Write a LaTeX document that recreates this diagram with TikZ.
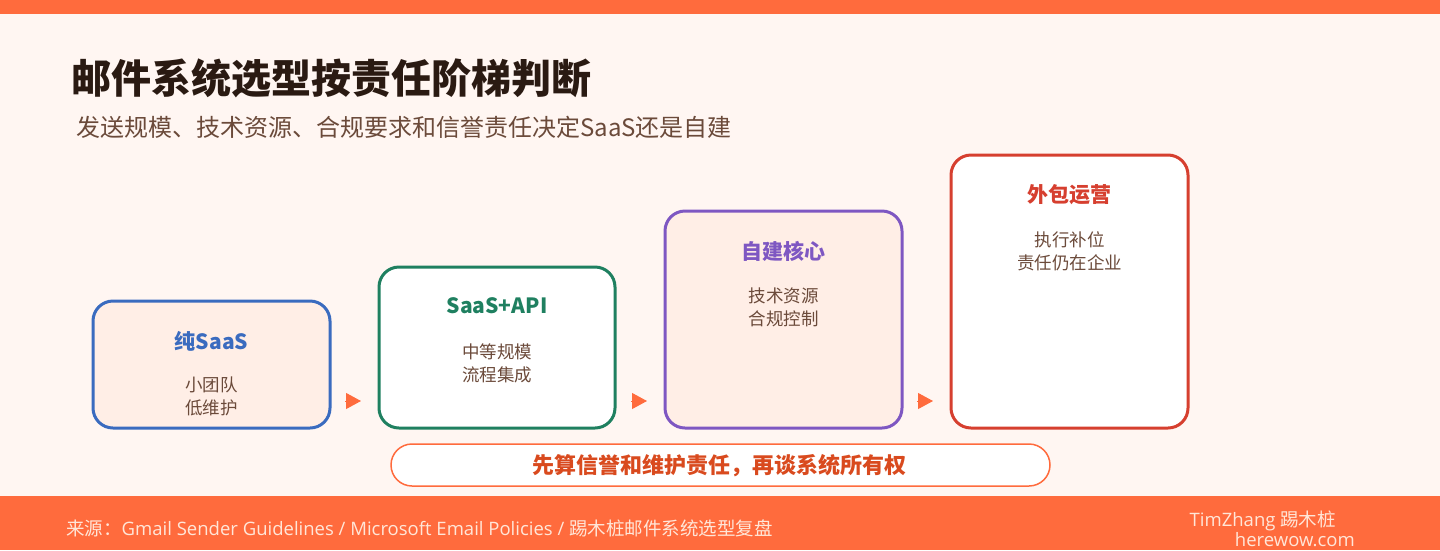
\documentclass[tikz,border=0pt]{standalone}
\usepackage{fontspec}
\setmainfont{Noto Sans CJK SC}
\newfontfamily\latinf{Open Sans}
\usetikzlibrary{arrows.meta}
\definecolor{bg}{HTML}{FFF6F2}
\definecolor{bar}{HTML}{FF6B3D}
\definecolor{titlec}{HTML}{2A1A12}
\definecolor{subc}{HTML}{6B4A3A}
\definecolor{bodyc}{HTML}{6B4A3A}
\definecolor{peach}{HTML}{FFEEE6}
\definecolor{cblue}{HTML}{3A6BBF}
\definecolor{cgreen}{HTML}{1F8060}
\definecolor{cpurple}{HTML}{7E57C2}
\definecolor{cred}{HTML}{D63F2F}
\definecolor{banc}{HTML}{D94A1E}
\definecolor{footc}{HTML}{FFE6D8}
\tikzset{
  stagebox/.style={draw, line width=3pt, rounded corners=20pt, inner sep=0pt},
  stagetitle/.style={font=\fontsize{21}{25}\selectfont\bfseries, inner sep=0pt, anchor=center},
  stagebody/.style={font=\fontsize{17.5}{23}\selectfont, text=bodyc, align=center, inner sep=0pt, anchor=center},
  stagearrow/.style={draw=bar, line width=1pt, -{Triangle[length=15pt 0 0,width=16pt 0 0]}},
  txt/.style={inner sep=0pt},
  foot/.style={inner sep=0pt, text=footc, font=\fontsize{18.5}{22}\selectfont}
}
\begin{document}
\begin{tikzpicture}[x=1pt,y=-1pt]
\useasboundingbox (0,0) rectangle (1440,550);
\fill[bg] (0,0) rectangle (1440,550);
\fill[bar] (0,0) rectangle (1440,14);
\fill[bar] (0,496) rectangle (1440,550);

\node[txt, anchor=west, text=titlec, font=\fontsize{40}{46}\selectfont\bfseries] (title) at (71,78) {邮件系统选型按责任阶梯判断};
\node[txt, anchor=west, text=subc, font=\fontsize{24}{28}\selectfont] (subtitle) at (76,127) {发送规模、技术资源、合规要求和信誉责任决定SaaS还是自建};

% boxes
\node[stagebox, draw=cblue, fill=peach, minimum width=237pt, minimum height=127pt] (b1) at (211.5,364.5) {};
\node[stagebox, draw=cgreen, fill=white, minimum width=236pt, minimum height=161pt] (b2) at (497,347.5) {};
\node[stagebox, draw=cpurple, fill=peach, minimum width=237pt, minimum height=217pt] (b3) at (783.5,319.5) {};
\node[stagebox, draw=cred, fill=white, minimum width=237pt, minimum height=273pt] (b4) at (1069.5,291.5) {};

\node[stagetitle, text=cblue] (t1) at (211.5,341) {纯SaaS};
\node[stagebody] (d1) at (211.5,396) {小团队\\低维护};
\node[stagetitle, text=cgreen] (t2) at (497,306) {SaaS+API};
\node[stagebody] (d2) at (497,363) {中等规模\\流程集成};
\node[stagetitle, text=cpurple] (t3) at (783.5,251) {自建核心};
\node[stagebody] (d3) at (783.5,307) {技术资源\\合规控制};
\node[stagetitle, text=cred] (t4) at (1069.5,195) {外包运营};
\node[stagebody] (d4) at (1069.5,251) {执行补位\\责任仍在企业};

% arrows
\coordinate (a1s) at (345,401); \coordinate (a1e) at (361,401);
\coordinate (a2s) at (631,401); \coordinate (a2e) at (647,401);
\coordinate (a3s) at (917,401); \coordinate (a3e) at (933,401);
\draw[stagearrow] (a1s) -- (a1e);
\draw[stagearrow] (a2s) -- (a2e);
\draw[stagearrow] (a3s) -- (a3e);

% banner
\node[draw=bar, line width=1.5pt, fill=white, rounded corners=21pt, minimum width=659pt, minimum height=42pt, inner sep=0pt] (banner) at (720.5,465) {};
\node[txt, text=banc, font=\fontsize{22}{26}\selectfont\bfseries] (bannertext) at (719,466) {先算信誉和维护责任，再谈系统所有权};

% footer
\node[foot, anchor=west] (source) at (66,528) {来源：{\latinf Gmail Sender Guidelines / Microsoft Email Policies / }踢木桩邮件系统选型复盘};
\node[foot, anchor=east] (author) at (1336,521) {{\latinf TimZhang }踢木桩};
\node[foot, anchor=east] (site) at (1355,540) {\latinf herewow.com};
\end{tikzpicture}
\end{document}
